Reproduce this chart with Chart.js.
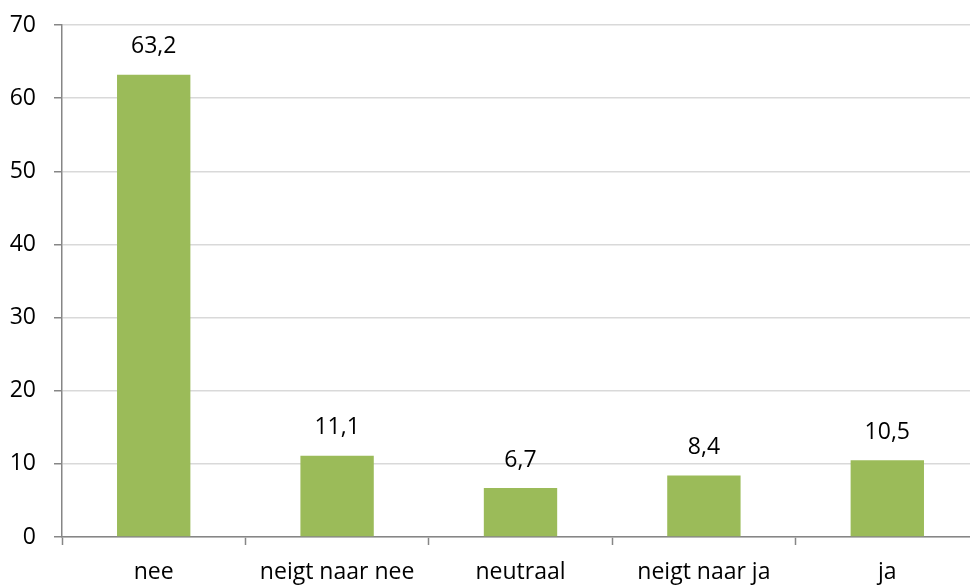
<!DOCTYPE html>
<html>
<head>
<meta charset="utf-8">
<script src="https://cdn.jsdelivr.net/npm/chart.js@4"></script>
<style>
  html, body { margin: 0; padding: 0; background: #fff; overflow: hidden; }
  #wrap { width: 980px; height: 586px; }
</style>
</head>
<body>
<div id="wrap"><canvas id="barChart" width="980" height="586"></canvas></div>
<script>
const categories = ['nee', 'neigt naar nee', 'neutraal', 'neigt naar ja', 'ja'];
const values = [63.2, 11.1, 6.7, 8.4, 10.5];
const yTicks = [0, 10, 20, 30, 40, 50, 60, 70];

const fontFamily = '"Open Sans", Lato, sans-serif';
const fontSize = 23;
const axisGray = '#868686';

// labels above bars, Dutch decimal comma
const valueLabels = {
    id: 'valueLabels',
    afterDatasetsDraw(chart) {
        const ctx = chart.ctx;
        const meta = chart.getDatasetMeta(0);
        ctx.save();
        ctx.font = fontSize + 'px ' + fontFamily;
        ctx.fillStyle = '#000';
        ctx.textAlign = 'center';
        ctx.textBaseline = 'middle';
        meta.data.forEach((bar, i) => {
            const txt = values[i].toFixed(1).replace('.', ',');
            ctx.fillText(txt, bar.x, bar.y - 28);
        });
        ctx.restore();
    },
};

const ctx = document.getElementById('barChart').getContext('2d');
new Chart(ctx, {
    type: 'bar',
    data: {
        labels: categories,
        datasets: [
            {
                data: values,
                backgroundColor: '#9BBB59',
                borderWidth: 0,
                categoryPercentage: 1,
                barPercentage: 0.4,
            },
        ],
    },
    options: {
        responsive: false,
        animation: false,
        layout: { padding: { top: 25, right: 1, left: 0, bottom: 0 } },
        plugins: {
            legend: { display: false },
            tooltip: { enabled: false },
        },
        scales: {
            x: {
                offset: true,
                grid: {
                    offset: true,
                    drawOnChartArea: false,
                    tickLength: 8,
                    tickColor: axisGray,
                    tickWidth: 1.5,
                },
                border: { color: axisGray, width: 1.5 },
                ticks: {
                    color: '#000',
                    padding: 14,
                    font: { family: fontFamily, size: fontSize },
                    maxRotation: 0,
                },
                afterFit(scale) {
                    scale.height = 49;
                    scale.paddingLeft = 0;
                    scale.paddingRight = 0;
                },
            },
            y: {
                min: 0,
                max: 70,
                afterBuildTicks(scale) {
                    scale.ticks = yTicks.map((v) => ({ value: v }));
                },
                grid: {
                    color: '#D9D9D9',
                    lineWidth: 1.5,
                    tickLength: 8,
                    tickColor: axisGray,
                    tickWidth: 1.5,
                },
                border: { color: axisGray, width: 1.5 },
                ticks: {
                    color: '#000',
                    padding: 18,
                    font: { family: fontFamily, size: fontSize },
                },
                afterFit(scale) {
                    scale.width = 62;
                    scale.paddingTop = 0;
                    scale.paddingBottom = 0;
                },
            },
        },
    },
    plugins: [valueLabels],
});
</script>
</body>
</html>
